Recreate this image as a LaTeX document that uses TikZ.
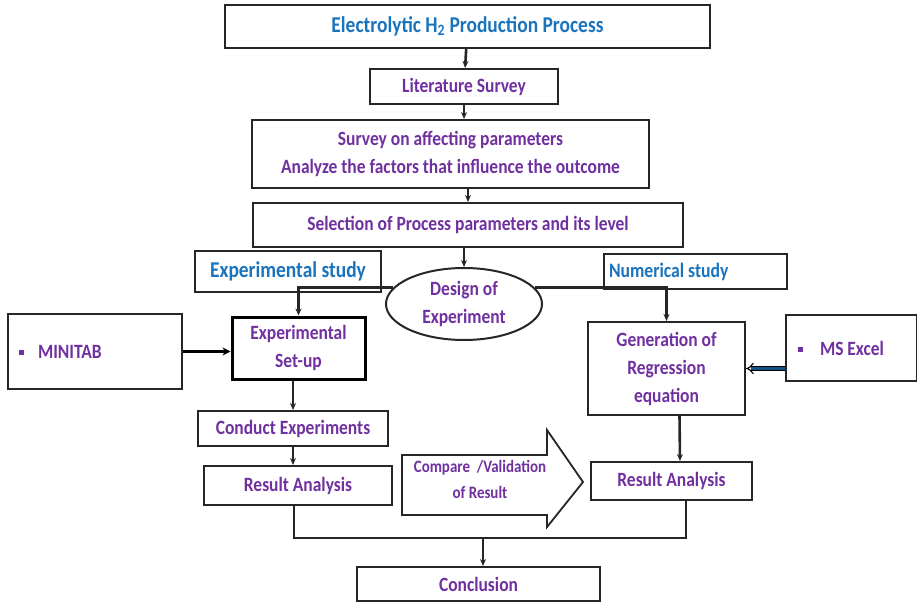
\documentclass[tikz,border=0pt]{standalone}
\usepackage{fontspec}
\setmainfont{Carlito}[FakeStretch=0.86]
\usetikzlibrary{arrows.meta,shapes.geometric,calc}
\definecolor{ptxt}{HTML}{7030A0}
\definecolor{btxt}{HTML}{1A74BD}
\begin{document}
\begin{tikzpicture}[x=1pt,y=-1pt,
  box/.style={draw=black!85,line width=2pt,fill=white,inner sep=2pt,align=center,
    font=\bfseries\fontsize{20.3}{28}\selectfont,text=ptxt},
  arr/.style={line width=2.6pt,draw=black!85,-{Stealth[length=7pt,width=6pt]}},
  ln/.style={line width=2.6pt,draw=black!85}]
\useasboundingbox (0,0) rectangle (917,604);
\node[box,minimum width=485,minimum height=43,text=btxt,font=\bfseries\fontsize{22.6}{24}\selectfont] (title) at (467.5,26.5) {Electrolytic H\textsubscript{2} Production Process};
\node[box,minimum width=188,minimum height=35] (lit) at (464,86.5) {Literature Survey};
\node[box,minimum width=397,minimum height=68] (surv) at (450.5,154) {Survey on affecting parameters\\Analyze the factors that influence the outcome};
\node[box,minimum width=430,minimum height=44] (sel) at (468,225) {Selection of Process parameters and its level};
\node[box,minimum width=186,minimum height=41,text=btxt,font=\bfseries\fontsize{22.6}{24}\selectfont] (expst) at (288,271.5) {Experimental study};
\node[box,minimum width=183,minimum height=35,text=btxt,font=\bfseries\fontsize{20.5}{24}\selectfont,text width=172,align=flush left] (numst) at (695,271.5) {Numerical study};
\node[box,ellipse,minimum width=156,minimum height=72,inner sep=0pt] (doe) at (464,304) {Design of\\Experiment};
\node[box,minimum width=133,minimum height=62,line width=3pt,draw=black] (setup) at (298.5,348) {Experimental\\Set-up};
\node[box,minimum width=174,minimum height=75,text width=164,align=flush left] (mini) at (95,351.5) {\hspace{6pt}\rule[3pt]{5pt}{5pt}\hspace{14pt}MINITAB};
\node[box,minimum width=157,minimum height=93] (gen) at (666.5,368.5) {Generation of\\Regression\\equation};
\node[box,minimum width=131,minimum height=66,text width=121,align=flush left] (excel) at (851.5,348) {\hspace{7pt}\rule[3pt]{5pt}{5pt}\hspace{17pt}MS Excel};
\node[box,minimum width=190,minimum height=35] (cond) at (293,428.5) {Conduct Experiments};
\node[box,minimum width=188,minimum height=39] (resL) at (298,485.5) {Result Analysis};
\node[box,minimum width=161,minimum height=38] (resR) at (671.5,481) {Result Analysis};
\node[box,minimum width=243,minimum height=34] (conc) at (478.5,584) {Conclusion};
% compare arrow
\draw[line width=1.8pt,draw=black!85,fill=white] (402,455) -- (547,455) -- (547,430) -- (583,482) -- (547,527) -- (547,515) -- (402,515) -- cycle;
\node[align=center,font=\bfseries\fontsize{17.4}{26}\selectfont,text=ptxt] (cmp) at (480,479) {Compare \ /Validation\\of Result};
% connectors
\draw[arr] (title) -- (lit);
\draw[arr] (lit.south) -- (lit.south |- surv.north);
\draw[arr] (surv.south -| sel.north) -- (sel.north);
\draw[arr] (sel.south -| doe.north) -- (doe.north);
\draw[arr] (doe.167) -| (setup.north);
\draw[arr] (doe.13) -| (gen.north);
\draw[line width=3.4pt,draw=black,-{Stealth[length=8pt,width=8pt]}] (mini.east) -- (setup.west |- mini.east);
\draw[line width=1.1pt,double=btxt!70!black,double distance=2.8pt,-{Implies}] (excel.west |- gen.east) -- (gen.east);
\draw[arr] (setup.south -| cond.north) -- (cond.north);
\draw[arr] (cond.south) -- (cond.south |- resL.north);
\draw[arr] ($(gen.south)+(13,0)$) -- ($(resR.north)+(8.5,0)$);
\draw[ln] ($(resL.south)+(-4,0)$) -- ++(0,32) coordinate (jl) -- ($(jl)+(392,0)$) coordinate (jr) -- (jr |- resR.south);
\coordinate (cn) at ($(conc.north)+(4.5,0)$);
\draw[arr] (cn |- jl) -- (cn);
\end{tikzpicture}
\end{document}
